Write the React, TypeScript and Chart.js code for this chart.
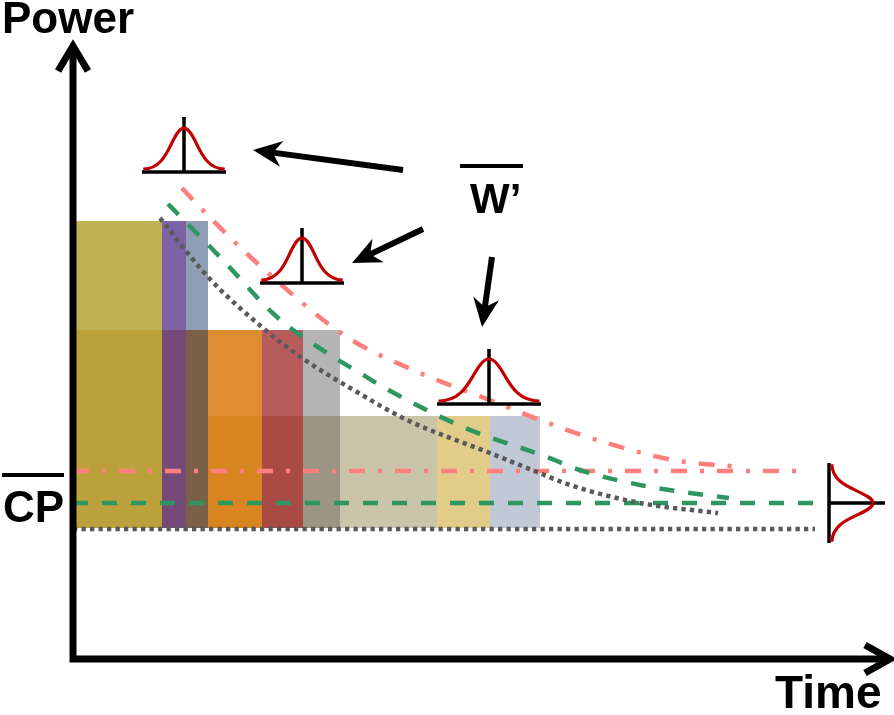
import { useEffect, useRef } from "react";
import { Chart, registerables } from "chart.js";
Chart.register(...registerables);

// Schematic units: time t and power P (origin at the axes' corner)
const blockEdges = [3, 89, 113, 135, 189, 230, 267, 364, 417, 467];
const blockTops = [438, 438, 438, 329, 329, 329, 243, 243, 243];
const blockSplits = [329, 329, 329, 243, 243, 243, 131, 131, 131];
const blockBase = 131;
const upperColors = ["#bfb255", "#7d62a6", "#8f9db5", "#df8d30", "#b85b5c", "#b4b4b4", "#c9c4aa", "#e2cc8a", "#c1c8d6"];
const lowerColors = ["#baa13b", "#754a79", "#7b5f47", "#d88521", "#a94a45", "#9a9585", "#c9c4aa", "#e2cc8a", "#c1c8d6"];

// CP levels (pink dash-dot, green dashed, grey dotted)
const cpPowers = [188, 156, 130];
const cpEnds = [734, 744, 742];

// W' decay curves
const pinkT = [109, 120, 184, 274, 340, 424, 467, 524, 600, 667];
const pinkP = [471, 459, 396, 322, 289, 256, 239, 219, 199, 192];
const greenT = [95, 147, 204, 254, 287, 310, 390, 474, 507, 567, 617, 656];
const greenP = [455, 402, 342, 306, 286, 272, 232, 202, 189, 174, 166, 161];
const greyT = [87, 135, 190, 232, 284, 334, 417, 464, 497, 567, 645];
const greyP = [441, 382, 331, 299, 267, 239, 206, 187, 174, 156, 146];

const lineColors = ["#ff7f7f", "#2e9660", "#5a5a5a"];
const lineDashes = [[16, 13, 4, 13], [15, 14], [4.3, 4.2]];

// distribution icons: [center t, baseline P, half width, stem height, peak height]
const uprightIcons = [
  [111, 487, 42, 55, 44],
  [229, 376, 42, 55, 45],
  [416, 255, 52, 55, 45],
];
// sideways icon: [stem t, center P, half height, arm length, peak]
const sideIcon = [756, 156, 40, 56, 44];

// annotation arrows: [tailT, tailP, tipT, tipP]
const arrows = [
  [330, 489, 180, 509],
  [350, 430, 279, 396],
  [419, 402, 409, 332],
];

const FONT = '"Liberation Sans", Arial, Helvetica, sans-serif';

function bellPath(ctx: CanvasRenderingContext2D, map: (u: number, v: number) => [number, number]) {
  const segs: number[][] = [
    [-0.6, 0.03, -0.44, 0.36, -0.32, 0.6],
    [-0.2, 0.84, -0.11, 1, 0, 1],
    [0.11, 1, 0.2, 0.84, 0.32, 0.6],
    [0.44, 0.36, 0.6, 0.03, 1, 0.02],
  ];
  ctx.beginPath();
  const s = map(-1, 0.02);
  ctx.moveTo(s[0], s[1]);
  for (const g of segs) {
    const a = map(g[0], g[1]);
    const b = map(g[2], g[3]);
    const c = map(g[4], g[5]);
    ctx.bezierCurveTo(a[0], a[1], b[0], b[1], c[0], c[1]);
  }
  ctx.stroke();
}

const annotPlugin = {
  id: "annot",
  afterDraw(chart: any) {
    const ctx: CanvasRenderingContext2D = chart.ctx;
    const xs = chart.scales.x;
    const ys = chart.scales.y;
    const X = (t: number) => xs.getPixelForValue(t);
    const Y = (p: number) => ys.getPixelForValue(p);
    const dx = (d: number) => X(d) - X(0);
    const dy = (d: number) => Y(0) - Y(d);
    ctx.save();

    // axes
    ctx.strokeStyle = "#000";
    ctx.lineWidth = 7;
    ctx.lineCap = "butt";
    ctx.lineJoin = "miter";
    ctx.beginPath();
    ctx.moveTo(X(0), Y(-3.5));
    ctx.lineTo(X(0), Y(608));
    ctx.moveTo(X(-3.5), Y(0));
    ctx.lineTo(X(812), Y(0));
    ctx.stroke();
    // y arrow head
    ctx.beginPath();
    ctx.moveTo(X(0) - 15, Y(613) + 25);
    ctx.lineTo(X(0), Y(613));
    ctx.lineTo(X(0) + 15, Y(613) + 25);
    ctx.stroke();
    // x arrow head
    ctx.beginPath();
    ctx.moveTo(X(817) - 25, Y(0) - 14);
    ctx.lineTo(X(817), Y(0));
    ctx.lineTo(X(817) - 25, Y(0) + 14);
    ctx.stroke();

    // upright icons
    for (const ic of uprightIcons) {
      const [ct, bp, hw, sh, pk] = ic;
      const cx = X(ct), cy = Y(bp), w = dx(hw), h = dy(sh), ph = dy(pk);
      ctx.strokeStyle = "#000";
      ctx.lineWidth = 3.5;
      ctx.beginPath();
      ctx.moveTo(cx - w, cy);
      ctx.lineTo(cx + w, cy);
      ctx.moveTo(cx, cy);
      ctx.lineTo(cx, cy - h);
      ctx.stroke();
      ctx.strokeStyle = "#c00000";
      ctx.lineWidth = 3.2;
      bellPath(ctx, (u, v) => [cx + u * w * 0.97, cy - 2 - v * (ph - 2)]);
    }
    // sideways icon
    {
      const [st, cp, hh, arm, pk] = sideIcon;
      const cx = X(st), cy = Y(cp), h = dy(hh), len = dx(arm), pl = dx(pk);
      ctx.strokeStyle = "#000";
      ctx.lineWidth = 3.5;
      ctx.beginPath();
      ctx.moveTo(cx, cy - h);
      ctx.lineTo(cx, cy + h);
      ctx.moveTo(cx, cy);
      ctx.lineTo(cx + len, cy);
      ctx.stroke();
      ctx.strokeStyle = "#c00000";
      ctx.lineWidth = 3.2;
      bellPath(ctx, (u, v) => [cx + 2 + v * (pl - 2), cy + u * h * 0.97]);
    }

    // annotation arrows
    ctx.fillStyle = "#000";
    ctx.strokeStyle = "#000";
    for (const a of arrows) {
      const x0 = X(a[0]), y0 = Y(a[1]), x1 = X(a[2]), y1 = Y(a[3]);
      const len = Math.hypot(x1 - x0, y1 - y0);
      const ux = (x1 - x0) / len, uy = (y1 - y0) / len;
      const nx = -uy, ny = ux;
      const L = 29, Wd = 13, N = 9;
      ctx.lineWidth = 6;
      ctx.beginPath();
      ctx.moveTo(x0, y0);
      ctx.lineTo(x1 - ux * (L - N), y1 - uy * (L - N));
      ctx.stroke();
      ctx.beginPath();
      ctx.moveTo(x1, y1);
      ctx.lineTo(x1 - ux * L + nx * Wd, y1 - uy * L + ny * Wd);
      ctx.lineTo(x1 - ux * (L - N), y1 - uy * (L - N));
      ctx.lineTo(x1 - ux * L - nx * Wd, y1 - uy * L - ny * Wd);
      ctx.closePath();
      ctx.fill();
    }

    // texts
    ctx.fillStyle = "#000";
    ctx.textBaseline = "alphabetic";
    ctx.textAlign = "left";
    ctx.font = `bold 44px ${FONT}`;
    ctx.fillText("Power", X(-71), Y(626));
    ctx.font = `bold 46px ${FONT}`;
    ctx.fillText("Time", X(702), Y(-49));
    ctx.font = `bold 44px ${FONT}`;
    ctx.fillText("CP", X(-70), Y(137));
    ctx.font = `bold 42px ${FONT}`;
    ctx.fillText("W\u2019", X(397), Y(446));
    // overlines
    ctx.lineWidth = 4;
    ctx.beginPath();
    ctx.moveTo(X(-71), Y(184));
    ctx.lineTo(X(-9), Y(184));
    ctx.moveTo(X(387), Y(493));
    ctx.lineTo(X(450), Y(493));
    ctx.stroke();

    ctx.restore();
  },
};

export default function App() {
  const ref = useRef<HTMLCanvasElement | null>(null);
  useEffect(() => {
    if (!ref.current) return;
    const datasets: any[] = [];
    const curveSets = [
      [pinkT, pinkP],
      [greenT, greenP],
      [greyT, greyP],
    ];
    // decay curves
    curveSets.forEach((c, i) => {
      datasets.push({
        data: c[0].map((t, k) => ({ x: t, y: c[1][k] })),
        borderColor: lineColors[i],
        borderWidth: 4.5,
        borderDash: lineDashes[i],
        borderCapStyle: "butt",
        cubicInterpolationMode: "monotone",
        fill: false,
        pointRadius: 0,
      });
    });
    // CP lines
    cpPowers.forEach((p, i) => {
      datasets.push({
        data: [{ x: 0, y: p }, { x: cpEnds[i], y: p }],
        borderColor: lineColors[i],
        borderWidth: 4.5,
        borderDash: lineDashes[i],
        borderCapStyle: "butt",
        fill: false,
        pointRadius: 0,
      });
    });
    // blocks
    for (let i = 0; i < blockTops.length; i++) {
      const t0 = blockEdges[i], t1 = blockEdges[i + 1];
      datasets.push({
        data: [{ x: t0, y: blockTops[i] }, { x: t1, y: blockTops[i] }],
        borderColor: "rgba(0,0,0,0)",
        borderWidth: 1,
        backgroundColor: upperColors[i],
        fill: { value: blockSplits[i] },
        pointRadius: 0,
        tension: 0,
      });
      if (blockSplits[i] > blockBase) {
        datasets.push({
          data: [{ x: t0, y: blockSplits[i] }, { x: t1, y: blockSplits[i] }],
          borderColor: "rgba(0,0,0,0)",
          borderWidth: 1,
          backgroundColor: lowerColors[i],
          fill: { value: blockBase },
          pointRadius: 0,
          tension: 0,
        });
      }
    }
    const chart = new Chart(ref.current, {
      type: "line",
      data: { datasets },
      options: {
        animation: false,
        responsive: true,
        maintainAspectRatio: false,
        events: [],
        layout: { padding: 0 },
        plugins: { legend: { display: false }, tooltip: { enabled: false } },
        scales: {
          x: { type: "linear", min: -73, max: 821, display: false },
          y: { type: "linear", min: -56, max: 659, display: false },
        },
      },
      plugins: [annotPlugin],
    } as any);
    return () => chart.destroy();
  }, []);
  return (
    <div style={{ position: "absolute", left: 0, top: 0, width: 894, height: 715, background: "#fff" }}>
      <canvas ref={ref} />
    </div>
  );
}
